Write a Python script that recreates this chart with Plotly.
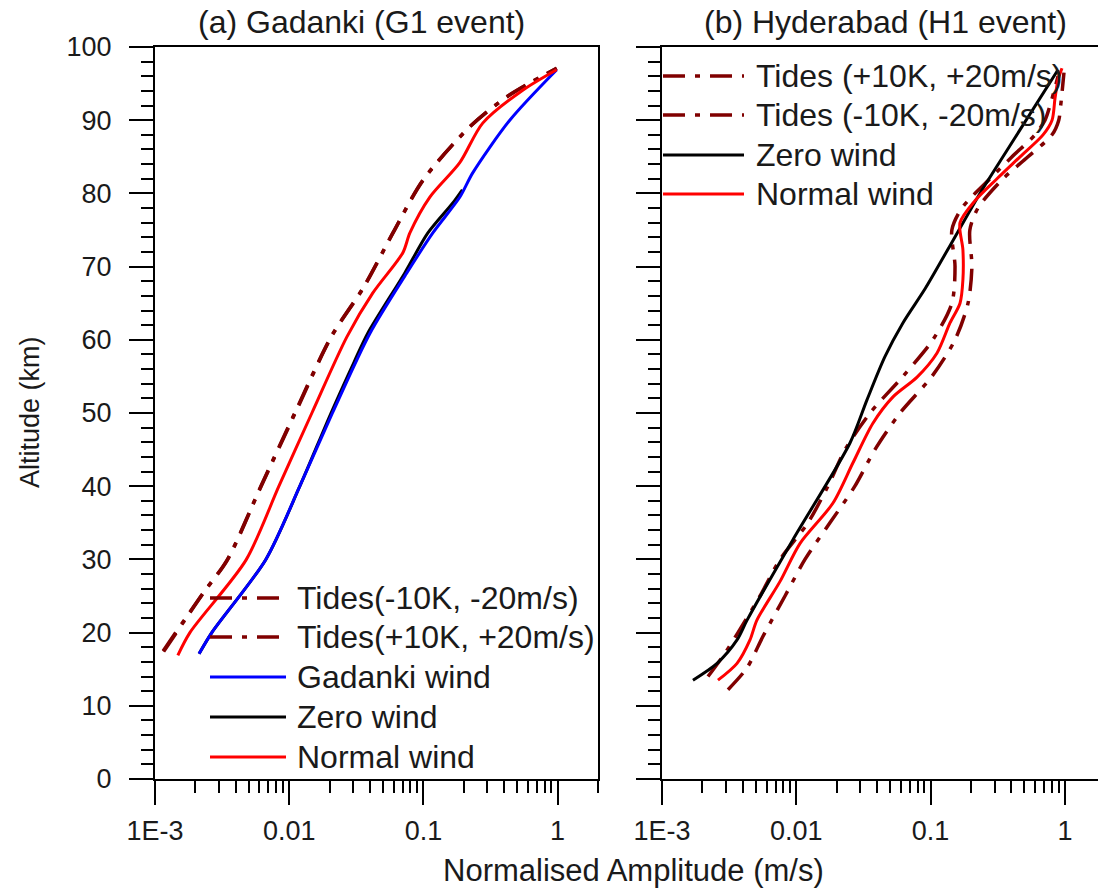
import plotly.graph_objects as go

# ---------------- Panel (a) Gadanki (G1 event) ----------------
a_tm_alt = [17.5, 25.4, 29.9, 40, 50, 60.4, 67.2, 74.6, 81.8, 89.1, 93.2, 97.1]
a_tm_amp = [0.00115, 0.00228, 0.00344, 0.00615, 0.0110, 0.0205, 0.0358, 0.0592, 0.099, 0.2213, 0.418, 0.985]
a_tp_alt = [17.4, 25.4, 29.9, 40, 50, 60.4, 67.2, 74.6, 81.8, 89.1, 93.2, 97.1]
a_tp_amp = [0.00116, 0.00229, 0.00346, 0.00618, 0.0111, 0.0206, 0.0360, 0.0594, 0.0995, 0.222, 0.42, 0.985]
a_gw_alt = [17.1, 20, 30, 40, 50, 60.9, 69.1, 74.6, 79.5, 82.8, 90, 96.9]
a_gw_amp = [0.00213, 0.00265, 0.0067, 0.012, 0.021, 0.040, 0.075, 0.1175, 0.187, 0.233, 0.44, 0.985]
a_zw_alt = [17.1, 20, 30, 40, 50, 57, 60.9, 69.1, 74.6, 78.7, 80.5]
a_zw_amp = [0.00213, 0.00265, 0.0067, 0.012, 0.0205, 0.0305, 0.0385, 0.0725, 0.108, 0.1656, 0.195]
a_nw_alt = [16.9, 20, 29.9, 40, 50, 60.4, 66.4, 71.9, 74.6, 79.5, 84.2, 89.6, 94.1, 96.9]
a_nw_amp = [0.00148, 0.00182, 0.00476, 0.00838, 0.01476, 0.0269, 0.0420, 0.0703, 0.0793, 0.1117, 0.1866, 0.2767, 0.5495, 0.985]

# ---------------- Panel (b) Hyderabad (H1 event) ----------------
b_tp_alt = [12.2, 15.2, 19.5, 25, 30, 35, 40, 45, 50, 55, 60, 65, 70, 75, 78, 82, 85, 88, 90, 92, 96.5]
b_tp_amp = [0.0031, 0.0043, 0.00565, 0.00824, 0.0116, 0.0178, 0.0273, 0.0385, 0.0592, 0.1023, 0.152, 0.190,
            0.203, 0.196, 0.2254, 0.346, 0.531, 0.802, 0.90, 0.93, 0.984]
b_tm_alt = [14.0, 17, 20, 25, 30, 35, 40, 45, 50, 55, 60, 65, 70, 75, 78, 82, 85, 88, 90, 92, 96]
b_tm_amp = [0.0022, 0.0029, 0.00368, 0.00537, 0.00757, 0.0122, 0.0172, 0.0231, 0.0354, 0.0622, 0.104, 0.144,
            0.152, 0.144, 0.171, 0.277, 0.404, 0.598, 0.711, 0.775, 0.889]
b_zw_alt = [13.5, 15.8, 19.0, 21.7, 32.7, 45.9, 51.8, 57.7, 62.3, 67.0, 72.3, 80.0, 85.9, 96.9]
b_zw_amp = [0.0017, 0.00257, 0.00362, 0.0043, 0.00944, 0.0251, 0.0336, 0.0457, 0.0622, 0.0912, 0.134, 0.233,
            0.371, 0.889]
b_nw_alt = [13.5, 15.8, 19.0, 21.7, 27, 32.2, 37.7, 43.2, 48.6, 52.2, 54.9, 58.2, 62.3, 65.0, 68.2, 72.3, 76,
            79, 82, 85, 88, 90, 93, 95.5, 97.1]
b_nw_amp = [0.00261, 0.00362, 0.00452, 0.00509, 0.00757, 0.01067, 0.01876, 0.02642, 0.0372, 0.0525, 0.0793,
            0.1117, 0.1394, 0.1656, 0.174, 0.174, 0.1656, 0.214, 0.312, 0.463, 0.687, 0.802, 0.844, 0.889, 0.951]

x_tickvals = [0.001, 0.01, 0.1, 1]
x_ticktext = ["1E-3", "0.01", "0.1", "1"]
x_minor = [m * d for d in (0.001, 0.01, 0.1, 1) for m in range(2, 10)]
y_tickvals = list(range(0, 101, 10))

legend_a = ["Tides(-10K, -20m/s)", "Tides(+10K, +20m/s)", "Gadanki wind", "Zero wind", "Normal wind"]
legend_b = ["Tides (+10K, +20m/s)", "Tides (-10K, -20m/s)", "Zero wind", "Normal wind"]

RED = "#ff0000"
BLUE = "#0000ff"
DRED = "#800000"
BLACK = "#000000"
DASHDOT = "22px,10px,5px,10px"
FONT = "Liberation Sans, Arial, sans-serif"
TXT = "#1a1a1a"

fig = go.Figure()


def add(x, y, color, dash, xa, ya, name, width=3):
    fig.add_trace(go.Scatter(x=x, y=y, mode="lines", name=name, xaxis=xa, yaxis=ya,
                             line=dict(color=color, width=width, dash=dash, shape="spline", smoothing=0.8),
                             showlegend=False))


# panel a
add(a_tm_amp, a_tm_alt, DRED, DASHDOT, "x", "y", legend_a[0], 3.5)
add(a_tp_amp, a_tp_alt, DRED, DASHDOT, "x", "y", legend_a[1], 3.5)
add(a_zw_amp, a_zw_alt, BLACK, "solid", "x", "y", legend_a[3])
add(a_gw_amp, a_gw_alt, BLUE, "solid", "x", "y", legend_a[2])
add(a_nw_amp, a_nw_alt, RED, "solid", "x", "y", legend_a[4])
# panel b
add(b_tp_amp, b_tp_alt, DRED, DASHDOT, "x2", "y2", legend_b[0], 3.5)
add(b_tm_amp, b_tm_alt, DRED, DASHDOT, "x2", "y2", legend_b[1], 3.5)
add(b_zw_amp, b_zw_alt, BLACK, "solid", "x2", "y2", legend_b[2])
add(b_nw_amp, b_nw_alt, RED, "solid", "x2", "y2", legend_b[3])

# geometry (pixels)
L, T, W, H = 155, 47, 1098, 892
B = 779
PW = W - L
PH = B - T


def px(xp):
    return (xp - L) / PW


def py(yp):
    return (B - yp) / PH


xcommon = dict(type="log", showline=True, linecolor="black", linewidth=2, mirror=True,
               ticks="outside", ticklen=24, tickwidth=2, tickcolor="black",
               tickvals=x_tickvals, ticktext=x_ticktext, showgrid=False, zeroline=False,
               tickfont=dict(family=FONT, size=27, color=TXT), ticklabelstandoff=3,
               minor=dict(tickmode="array", tickvals=x_minor, ticks="outside", ticklen=12,
                          tickwidth=2, tickcolor="black", showgrid=False))
ycommon = dict(range=[0, 100], showline=True, linecolor="black", linewidth=2,
               ticks="outside", ticklen=24, tickwidth=2, tickcolor="black",
               tickvals=y_tickvals, showgrid=False, zeroline=False,
               tickfont=dict(family=FONT, size=27, color=TXT), ticklabelstandoff=12,
               minor=dict(dtick=2, ticks="outside", ticklen=12, tickwidth=2, tickcolor="black",
                          showgrid=False))

fig.update_layout(
    width=W, height=H, margin=dict(l=L, r=0, t=T, b=H - B),
    paper_bgcolor="white", plot_bgcolor="white", showlegend=False,
    xaxis=dict(domain=[0, px(598)], range=[-3, 0.301], anchor="y", **xcommon),
    xaxis2=dict(domain=[px(662), 1], range=[-3, -3 + (1098 - 662) / 134.3], anchor="y2", **xcommon),
    yaxis=dict(domain=[0, 1], anchor="x", mirror=True, **ycommon),
    yaxis2=dict(domain=[0, 1], anchor="x2", mirror=False, showticklabels=False, **ycommon),
)

ann = []
ann.append(dict(text="(a) Gadanki (G1 event)", x=px(361), y=py(22), xref="paper", yref="paper",
                showarrow=False, font=dict(family=FONT, size=32, color=TXT), xanchor="center", yanchor="middle"))
ann.append(dict(text="(b) Hyderabad (H1 event)", x=px(885), y=py(22), xref="paper", yref="paper",
                showarrow=False, font=dict(family=FONT, size=32, color=TXT), xanchor="center", yanchor="middle"))
ann.append(dict(text="Altitude (km)", x=px(30), y=py(412), xref="paper", yref="paper", textangle=-90,
                showarrow=False, font=dict(family=FONT, size=27, color=TXT), xanchor="center", yanchor="middle"))
ann.append(dict(text="Normalised Amplitude (m/s)", x=px(633), y=py(870), xref="paper", yref="paper",
                showarrow=False, font=dict(family=FONT, size=31, color=TXT), xanchor="center", yanchor="middle"))

shapes = []
# legend (a)
leg_a_rows = [598, 637, 677, 717, 757]
leg_a_style = [(DRED, DASHDOT, 3.5), (DRED, DASHDOT, 3.5), (BLUE, "solid", 3), (BLACK, "solid", 3), (RED, "solid", 3)]
for yy, label, (c, d, w) in zip(leg_a_rows, legend_a, leg_a_style):
    shapes.append(dict(type="line", xref="paper", yref="paper", x0=px(210), x1=px(286), y0=py(yy), y1=py(yy),
                       line=dict(color=c, dash=d, width=w)))
    ann.append(dict(text=label, x=px(295), y=py(yy), xref="paper", yref="paper", showarrow=False,
                    font=dict(family=FONT, size=32, color=TXT), xanchor="left", yanchor="middle"))
# legend (b)
leg_b_rows = [76, 115, 155, 194]
leg_b_style = [(DRED, DASHDOT, 3.5), (DRED, DASHDOT, 3.5), (BLACK, "solid", 3), (RED, "solid", 3)]
for yy, label, (c, d, w) in zip(leg_b_rows, legend_b, leg_b_style):
    shapes.append(dict(type="line", xref="paper", yref="paper", x0=px(663), x1=px(744), y0=py(yy), y1=py(yy),
                       line=dict(color=c, dash=d, width=w)))
    ann.append(dict(text=label, x=px(754), y=py(yy), xref="paper", yref="paper", showarrow=False,
                    font=dict(family=FONT, size=32, color=TXT), xanchor="left", yanchor="middle"))

fig.update_layout(annotations=ann, shapes=shapes)
fig.write_html("out.html", config={"displayModeBar": False},
               post_script="document.body.style.margin='0';document.body.style.overflow='hidden';")
